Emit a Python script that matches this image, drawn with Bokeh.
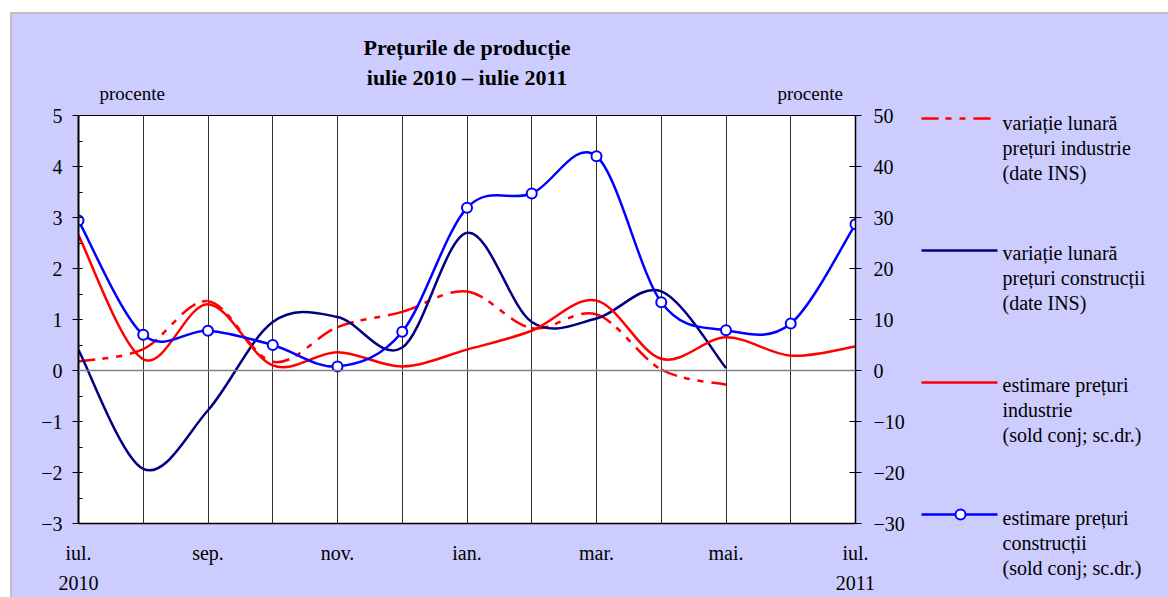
from bokeh.plotting import figure
from bokeh.models import Range1d, LinearAxis, FixedTicker, SingleIntervalTicker, Span, InlineStyleSheet
from bokeh.layouts import row, column
from bokeh.core.properties import value
from bokeh.embed import file_html
from bokeh.resources import INLINE

# ---------------- data ----------------
months = ["iul.", "aug.", "sep.", "oct.", "nov.", "dec.", "ian.", "feb.", "mar.", "apr.", "mai.", "iun.", "iul."]
years = {0: "2010", 12: "2011"}
# left axis (procente)
var_ind = [0.18, 0.42, 1.36, 0.17, 0.85, 1.15, 1.55, 0.83, 1.10, 0.02, -0.28]      # iul.2010 - mai.2011
var_cons = [0.40, -1.93, -0.78, 0.95, 1.05, 0.45, 2.70, 0.95, 1.02, 1.55, 0.05]    # iul.2010 - mai.2011
# right axis (sold conjunctural)
est_ind = [26.5, 2.2, 13.0, 1.0, 3.6, 0.8, 4.1, 7.8, 13.7, 2.3, 6.5, 2.9, 4.7]
est_cons = [29.4, 7.0, 7.8, 5.0, 0.8, 7.6, 31.9, 34.7, 42.0, 13.4, 7.9, 9.2, 28.7]
left_ticks = [-3, -2, -1, 0, 1, 2, 3, 4, 5]
right_ticks = [-30, -20, -10, 0, 10, 20, 30, 40, 50]
legend_labels = [
    ["variație lunară", "prețuri industrie", "(date INS)"],
    ["variație lunară", "prețuri construcții", "(date INS)"],
    ["estimare prețuri", "industrie", "(sold conj; sc.dr.)"],
    ["estimare prețuri", "construcții", "(sold conj; sc.dr.)"],
]
title_lines = ["Prețurile de producție", "iulie 2010 – iulie 2011"]
unit_label = "procente"
unit_label_x = [0.83, 11.3]

FONT = "Liberation Serif"
BG = "#CCCCFF"
RED = "#FF0000"
BLUE = "#0000FF"
NAVY = "#000080"
DASHDOT = "17 7 6 8 6 8"

# page geometry (frame of the main chart)
FL, FR, FT, FB = 78, 855, 115, 523
W_MAIN, W_LEG, H = 915, 253, 597


def smooth_segments(ys):
    """Bezier control points (Catmull-Rom style, like a smoothed spreadsheet line)."""
    xs = list(range(len(ys)))
    n = len(ys)
    d = dict(x0=[], y0=[], x1=[], y1=[], cx0=[], cy0=[], cx1=[], cy1=[])
    for i in range(n - 1):
        a = i - 1 if i > 0 else i
        b = i + 2 if i + 2 < n else i + 1
        d["x0"].append(xs[i]); d["y0"].append(ys[i])
        d["x1"].append(xs[i + 1]); d["y1"].append(ys[i + 1])
        d["cx0"].append(xs[i] + (xs[i + 1] - xs[a]) / 6.0)
        d["cy0"].append(ys[i] + (ys[i + 1] - ys[a]) / 6.0)
        d["cx1"].append(xs[i + 1] - (xs[b] - xs[i]) / 6.0)
        d["cy1"].append(ys[i + 1] - (ys[b] - ys[i]) / 6.0)
    return d


# ---------------- main chart ----------------
p = figure(width=W_MAIN, height=H, x_range=Range1d(0, 12), y_range=Range1d(-3, 5),
           output_backend="svg", toolbar_location=None,
           min_border_left=FL, min_border_right=W_MAIN - FR, min_border_top=FT, min_border_bottom=H - FB,
           background_fill_color="white", border_fill_color=BG)
p.outline_line_color = "black"
p.outline_line_width = 1
p.extra_y_ranges = {"right": Range1d(-30, 50)}

# x axis
overrides = {i: months[i] for i in range(0, 13, 2)}
for i, yr in years.items():
    overrides[i] = months[i] + "\n" + yr
p.xaxis.ticker = FixedTicker(ticks=list(range(0, 13, 2)))
p.xaxis.major_label_overrides = overrides
p.xaxis.major_tick_out = 0
p.xaxis.major_tick_in = 0
p.xaxis.minor_tick_line_color = None
p.xaxis.axis_line_color = "black"
p.xaxis.axis_line_width = 1.5
p.xaxis.major_label_standoff = 18
p.xaxis.major_label_text_font = FONT
p.xaxis.major_label_text_font_size = "20px"
p.xaxis.major_label_text_line_height = 1.4
p.xaxis.major_label_text_color = "black"

# top "axis": carries the unit labels and the two-line title
top = LinearAxis(ticker=FixedTicker(ticks=unit_label_x))
top.major_label_overrides = {v: unit_label for v in unit_label_x}
top.major_tick_out = 0
top.major_tick_in = 0
top.minor_tick_line_color = None
top.axis_line_color = None
top.major_label_standoff = 12
top.major_label_text_font = FONT
top.major_label_text_font_size = "19px"
top.major_label_text_color = "black"
top.axis_label = "\n".join(title_lines)
top.axis_label_text_font = FONT
top.axis_label_text_font_size = "22px"
top.axis_label_text_font_style = "bold"
top.axis_label_text_line_height = 1.19
top.axis_label_text_color = "black"
top.axis_label_standoff = -10
p.add_layout(top, "above")

# left y axis
p.yaxis.ticker = SingleIntervalTicker(interval=1, num_minor_ticks=2)
p.yaxis.major_label_overrides = {t: (str(t).replace("-", "\u2212")) for t in left_ticks}
p.yaxis.major_tick_out = 6
p.yaxis.major_tick_in = 0
p.yaxis.minor_tick_in = 4
p.yaxis.minor_tick_out = 0
p.yaxis.axis_line_width = 2
p.yaxis.axis_line_color = "black"
p.yaxis.major_label_standoff = 10
p.yaxis.major_label_text_font = FONT
p.yaxis.major_label_text_font_size = "20px"
p.yaxis.major_label_text_color = "black"

# right y axis
ax_r = LinearAxis(y_range_name="right", ticker=FixedTicker(ticks=right_ticks))
ax_r.major_label_overrides = {t: (str(t).replace("-", "\u2212")) for t in right_ticks}
ax_r.major_tick_out = 6
ax_r.major_tick_in = 6
ax_r.minor_tick_line_color = None
ax_r.axis_line_color = "black"
ax_r.axis_line_width = 1.5
ax_r.major_label_standoff = 12
ax_r.major_label_text_font = FONT
ax_r.major_label_text_font_size = "20px"
ax_r.major_label_text_color = "black"
p.add_layout(ax_r, "right")

# grids
p.ygrid.grid_line_color = None
p.xgrid.ticker = FixedTicker(ticks=list(range(13)))
p.xgrid.grid_line_color = "#303030"
p.xgrid.grid_line_width = 1
p.add_layout(Span(location=0, dimension="width", line_color="#808080", line_width=1.5))

# series
p.bezier(**smooth_segments(var_ind), line_color=RED, line_width=2.5, line_dash=DASHDOT)
p.bezier(**smooth_segments(var_cons), line_color=NAVY, line_width=2.5)
p.bezier(**smooth_segments(est_ind), line_color=RED, line_width=2.5, y_range_name="right")
p.bezier(**smooth_segments(est_cons), line_color=BLUE, line_width=2.5, y_range_name="right")
p.scatter(list(range(len(est_cons))), est_cons, y_range_name="right", marker="circle", size=10,
          fill_color="white", line_color=BLUE, line_width=2)

# ---------------- legend panel ----------------
LX0 = W_MAIN
lg = figure(width=W_LEG, height=H, x_range=Range1d(LX0, LX0 + W_LEG), y_range=Range1d(H, 0),
            output_backend="svg", toolbar_location=None, min_border=0,
            x_axis_location=None, y_axis_location=None,
            background_fill_color=BG, border_fill_color=BG)
lg.outline_line_color = None
lg.grid.visible = False

sample_y = [118, 250, 382, 514]
text_y = [122, 252, 384, 517]
lg.line([921, 993], [sample_y[0]] * 2, line_color=RED, line_width=2.5, line_dash=DASHDOT)
lg.line([921, 997], [sample_y[1]] * 2, line_color=NAVY, line_width=2.5)
lg.line([921, 997], [sample_y[2]] * 2, line_color=RED, line_width=2.5)
lg.line([921, 997], [sample_y[3]] * 2, line_color=BLUE, line_width=2.5)
lg.scatter([960], [sample_y[3]], marker="circle", size=10, fill_color="white", line_color=BLUE, line_width=2)

tx, ty, tt = [], [], []
for k, lines in enumerate(legend_labels):
    for j, s in enumerate(lines):
        tx.append(1002)
        ty.append(text_y[k] + 25 * j)
        tt.append(s)
lg.text(x=tx, y=ty, text=tt, text_font=value(FONT), text_font_size="20px",
        text_baseline="middle", text_align="left", text_color="black")

# white page strip and grey chart-area border at the top-left, as in the source image
frame_css = InlineStyleSheet(css="""
:host { position: relative; }
:host::before {
  content: ""; position: absolute; left: 0; top: 0; right: 0; bottom: 0;
  box-sizing: border-box; border-top: 12px solid #ffffff; border-left: 10px solid #ffffff;
  pointer-events: none; z-index: 20;
}
:host::after {
  content: ""; position: absolute; left: 10px; top: 12px; right: 0; bottom: 0;
  box-sizing: border-box; border-top: 2px solid #c0c0c0; border-left: 2px solid #c0c0c0;
  pointer-events: none; z-index: 21;
}
""")

layout = row(p, column(lg, spacing=0, styles={"background-color": BG}),
             spacing=0, styles={"background-color": BG}, stylesheets=[frame_css])
open("out.html", "w").write(file_html(layout, INLINE))
